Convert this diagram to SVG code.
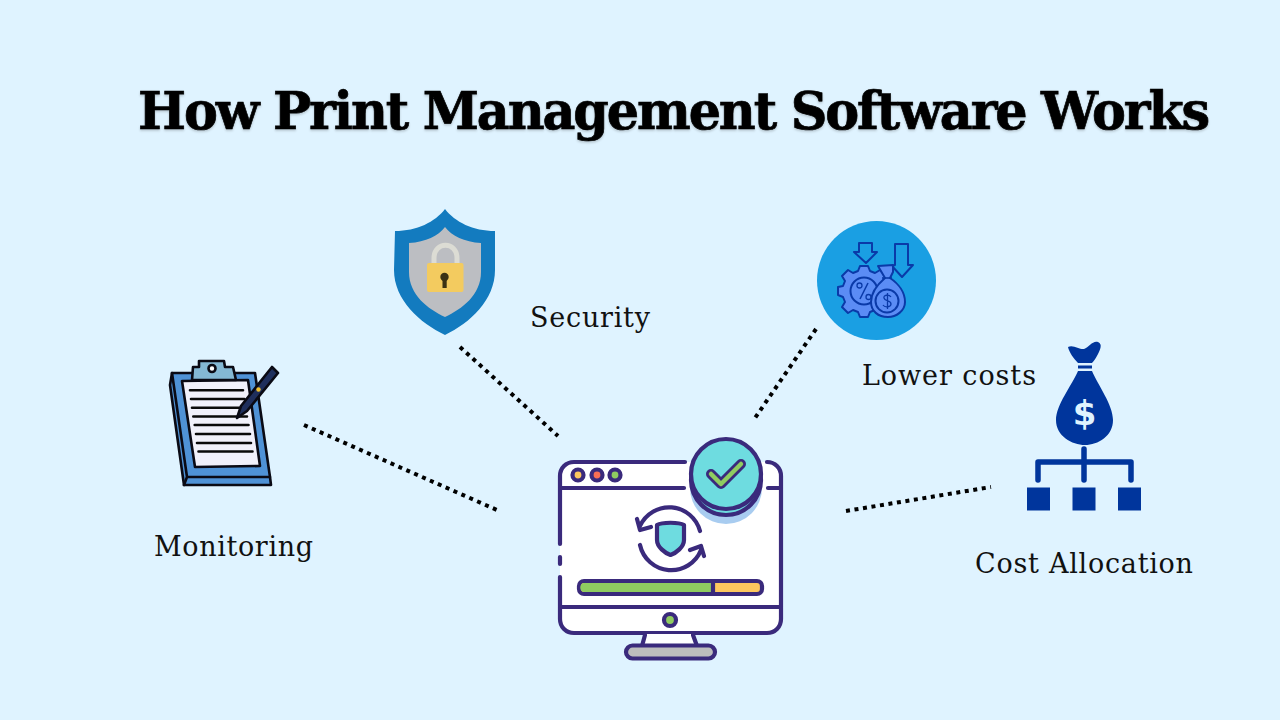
<svg xmlns="http://www.w3.org/2000/svg" width="1280" height="720" viewBox="0 0 1280 720">
<defs>
<filter id="ts" x="-5%" y="-20%" width="110%" height="140%"><feDropShadow dx="0" dy="1.500" stdDeviation="1.200" flood-color="#000" flood-opacity="0.2"/></filter>
</defs>
<style>
.title{font-family:"DejaVu Serif",serif;font-weight:700;font-size:53px;letter-spacing:-2.2px;fill:#000;stroke:#000;stroke-width:.7px}
.lbl{font-family:"DejaVu Serif",serif;font-size:27px;fill:#111}
.dot{fill:none;stroke:#000;stroke-width:4;stroke-dasharray:4 4.600}
.m{stroke:#3a2a7c;stroke-width:4.200;stroke-linecap:round;stroke-linejoin:round;fill:none}
.cb{stroke:#0a0a14;stroke-width:2.600;stroke-linejoin:round;stroke-linecap:round}
.lc{fill:#5b8cf5;stroke:#0a3aa8;stroke-width:2;stroke-linejoin:round}
.la{fill:none;stroke:#0a3aa8;stroke-width:2;stroke-linejoin:round}
</style>
<rect width="1280" height="720" fill="#dff3ff"/>
<text class="title" x="138" y="129" textLength="1070" lengthAdjust="spacingAndGlyphs" filter="url(#ts)">How Print Management Software Works</text>
<g id="connectors">
<path class="dot" d="M460 347L558 436"/>
<path class="dot" d="M304 425L497 510"/>
<path class="dot" d="M816 329L755 418"/>
<path class="dot" d="M846 511L991 487"/>
</g>
<g id="node-monitoring">
<path d="M172 373H255L270 477L271 485H184L170 385Z" fill="#4f92d6" class="cb"/>
<path d="M172 373L187 477H270M187 477L184 485" fill="none" class="cb"/>
<path d="M182 381L248 380L260 466L195 467Z" fill="#f1f1fb" class="cb"/>
<path d="M192 380L193 367H199V361H224L225 367H233L236 380Z" fill="#84b8d4" class="cb"/>
<circle cx="212" cy="368.500" r="3.500" fill="#fff" class="cb"/>
<path d="M190 390.300H243M191 399H244.500M192 407.700H246M193.300 416.500H247M194.700 425H248.500M196 434H250M197 443H251M198.500 451.500H252.500" stroke="#0a0a0a" stroke-width="2.600" stroke-linecap="round" fill="none"/>
<path d="M237 418L241 406L272 367L278 373L247 411Z" fill="#1f2f5c" class="cb"/>
<circle cx="258.500" cy="389.500" r="2.200" fill="#f2c230"/>
<text class="lbl" x="154" y="556" textLength="159" lengthAdjust="spacing">Monitoring</text>
</g>
<g id="node-security">
<path d="M445 209C455 222 473 231 495 231L495 270C495 300 470 323 445 335C420 323 394 300 394 270L395 231C417 231 435 222 445 209Z" fill="#137bbf"/>
<path d="M445 227C452 236 464 242 481 243L481 272C481 295 462 309 445 317C428 309 409 295 409 272L409 243C426 242 438 236 445 227Z" fill="#bcbec2"/>
<path d="M434 264V258C434 241 457 241 457 258V264" fill="none" stroke="#dcdcd4" stroke-width="5"/>
<rect x="427" y="263" width="36.500" height="29" rx="2" fill="#f3cb5f"/>
<circle cx="444.500" cy="277" r="4.200" fill="#3b3214"/>
<rect x="442.500" y="278" width="4.200" height="10" fill="#3b3214"/>
<text class="lbl" x="530" y="327" textLength="120" lengthAdjust="spacing">Security</text>
</g>
<g id="node-lower-costs">
<circle cx="876.500" cy="280.500" r="59.500" fill="#1a9fe3"/>
<path d="M859 243H872V252H877L866 263L854 252H859Z" class="la"/>
<path d="M895 244H908V265H913L902 277L892 266L895 265Z" class="la"/>
<path d="M860 266H868L870 271L875 273L880 270L886 276L883 281L885 286L890 287V295L885 297L883 302L886 307L880 313L875 310L870 312L868 317H860L858 312L853 310L848 313L842 307L845 302L843 297L838 295V287L843 286L845 281L842 276L848 270L853 273L858 271Z" class="lc"/>
<circle cx="864" cy="291" r="13.500" class="lc"/>
<path d="M868 283L860 299" stroke="#0a3aa8" stroke-width="1.500" fill="none"/>
<circle cx="859.500" cy="285.500" r="2.500" fill="none" stroke="#0a3aa8" stroke-width="1.300"/>
<circle cx="868.500" cy="297" r="2.500" fill="none" stroke="#0a3aa8" stroke-width="1.300"/>
<path d="M878 266L893 265L893 272L890 278C899 284 905 293 905 302C905 311 896 317 888 317C878 317 871 311 871 302C871 293 878 284 885 278Z" class="lc"/>
<circle cx="887" cy="301" r="11.500" class="lc"/>
<path d="M891 297C889 294 883 295 884 298C885 302 891 300 891 304C891 307 885 308 883 305M887.500 293V309" stroke="#0a3aa8" stroke-width="1.300" fill="none"/>
<path d="M882 278H892" stroke="#0a3aa8" stroke-width="1.600"/>
<text class="lbl" x="862" y="385" textLength="174" lengthAdjust="spacing">Lower costs</text>
</g>
<g id="node-cost-allocation">
<path d="M1068 347C1073 344 1080 350 1084 349C1089 347 1093 340 1098 342C1103 344 1100 350 1098 354C1096 358 1094 361 1092 363H1078C1074 359 1069 352 1068 347Z" fill="#00359c"/>
<rect x="1078" y="365.500" width="14" height="3" fill="#00359c"/>
<path d="M1078 371H1092C1098 385 1113 405 1113 420C1113 436 1098 445 1085 445C1072 445 1056 436 1056 420C1056 405 1072 385 1078 371Z" fill="#00359c"/>
<text x="1084.500" y="425" text-anchor="middle" font-family="'DejaVu Sans',sans-serif" font-weight="700" font-size="34" fill="#dff3ff">$</text>
<path d="M1084 449V480M1038 480V462H1131V480" fill="none" stroke="#00359c" stroke-width="5.500" stroke-linecap="round" stroke-linejoin="round"/>
<rect x="1027" y="487.500" width="23" height="23" fill="#00359c"/>
<rect x="1072.500" y="487.500" width="23" height="23" fill="#00359c"/>
<rect x="1118" y="487.500" width="23" height="23" fill="#00359c"/>
<text class="lbl" x="975" y="573" textLength="218" lengthAdjust="spacing">Cost Allocation</text>
</g>
<g id="node-center">
<rect x="560" y="462" width="221" height="171" rx="14" fill="#fff"/>
<path class="m" d="M685 462H574C566 462 560 468 560 476V544M560 557V564M560 577V619C560 627 566 633 574 633H767C775 633 781 627 781 619V476C781 468 775 462 767 462M560 488H684M768 488H781M560 607H781"/>
<path d="M646 634H693L696 646H643Z" fill="#fff"/>
<path class="m" d="M645 635L642 646M693 635L697 646"/>
<rect x="626" y="645.500" width="89" height="13" rx="6.500" class="m" style="fill:#bdbdbd"/>
<circle cx="578" cy="475" r="5.500" class="m" style="fill:#fdc75e"/>
<circle cx="597" cy="475" r="5.500" class="m" style="fill:#f96e54"/>
<circle cx="615" cy="475" r="5.500" class="m" style="fill:#8fcc60"/>
<circle cx="670" cy="620" r="6" class="m" style="fill:#8fcc60"/>
<rect x="579" y="581" width="183" height="13" rx="5" class="m" style="fill:#fdc75e"/>
<path d="M584 583H713V592H584C579 592 579 583 584 583Z" fill="#8fcc60"/>
<path class="m" d="M713 581V594"/>
<path class="m" d="M700 531A32 32 0 0 0 640 526M637 519L640 530L651 527M640 545A32 32 0 0 0 701 550M690 550L701 546L704 556"/>
<path class="m" style="fill:#6edce0" d="M657 525C662 522 679 522 684 525V540C684 547 676 553 670.500 555C665 553 657 547 657 540Z"/>
<circle cx="726" cy="488" r="36" fill="#a8ccf0"/>
<circle cx="726" cy="480" r="35" class="m" style="fill:#6edce0"/>
<circle cx="726" cy="474" r="35" class="m" style="fill:#6edce0"/>
<path d="M711 474L721 484L741 464" fill="none" stroke="#3a2a7c" stroke-width="10" stroke-linecap="round" stroke-linejoin="round"/>
<path d="M711 474L721 484L741 464" fill="none" stroke="#8fcc60" stroke-width="4.500" stroke-linecap="round" stroke-linejoin="round"/>
</g>
</svg>
